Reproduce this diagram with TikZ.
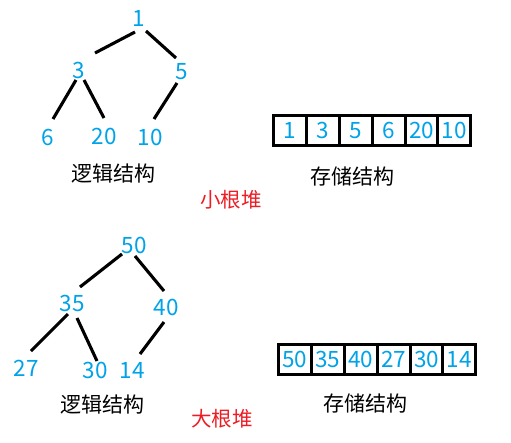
\documentclass[tikz,border=0pt]{standalone}
\usepackage{fontspec}
\setmainfont{Noto Sans CJK SC}
\usetikzlibrary{calc}
\definecolor{numblue}{RGB}{0,162,232}
\definecolor{heapred}{RGB}{237,28,36}
\tikzset{
  numtext/.style={text=numblue,font=\fontsize{22.5}{22.5}\selectfont,inner sep=0pt},
  lbltext/.style={text=black,font=\fontsize{21}{21}\selectfont,inner sep=0pt},
  heaptitle/.style={text=heapred,font=\fontsize{20.5}{20.5}\selectfont,inner sep=0pt},
  link/.style={line width=3.1pt},
  cellbox/.style={draw,line width=3pt,minimum width=32.9pt,minimum height=30pt,inner sep=0pt,text=numblue,font=\fontsize{22.5}{22.5}\selectfont},
}
\begin{document}
\begin{tikzpicture}[x=1pt,y=-1pt]
\useasboundingbox (0,0) rectangle (511,442);
% ---- small-root heap ----
\node[numtext] (t1) at (139,18) {1};
\node[numtext] (t3) at (79,70) {3};
\node[numtext] (t5) at (182,72) {5};
\node[numtext] (t6) at (48,137) {6};
\node[numtext] (t20) at (104,136) {20};
\node[numtext] (t10) at (150,137) {10};
\draw[link] ($(t1)+(-4,14)$) -- ($(t3)+(16,-17)$);
\draw[link] ($(t1)+(7,13)$) -- ($(t5)+(-6,-14)$);
\draw[link] ($(t3)+(-3,10)$) -- ($(t6)+(5,-18)$);
\draw[link] ($(t3)+(5,10)$) -- ($(t20)+(0,-18)$);
\draw[link] ($(t5)+(-5,11)$) -- ($(t10)+(4,-18)$);
\node[lbltext] (tl) at (113,174) {逻辑结构};
\node[heaptitle] (th) at (231,199.5) {小根堆};
\foreach \v [count=\i from 0] in {1,3,5,6,20,10}{
  \node[cellbox] (ta\i) at ({289.9+32.9*\i},130.5) {\v};
}
\node[lbltext] (ts) at (352,177) {存储结构};
% ---- large-root heap ----
\node[numtext] (b50) at (134,245) {50};
\node[numtext] (b35) at (72,303) {35};
\node[numtext] (b40) at (166,307) {40};
\node[numtext] (b27) at (26,368) {27};
\node[numtext] (b30) at (95,370) {30};
\node[numtext] (b14) at (132,370) {14};
\draw[link] ($(b50)+(-12,9)$) -- ($(b35)+(8,-16)$);
\draw[link] ($(b50)+(1,11)$) -- ($(b40)+(-2,-16)$);
\draw[link] ($(b35)+(-4,11)$) -- ($(b27)+(5,-17)$);
\draw[link] ($(b35)+(5,15)$) -- ($(b30)+(2,-9)$);
\draw[link] ($(b40)+(-2,15)$) -- ($(b14)+(8,-16)$);
\node[lbltext] (bl) at (102,405) {逻辑结构};
\node[heaptitle] (bh) at (222,419) {大根堆};
\foreach \v [count=\i from 0] in {50,35,40,27,30,14}{
  \node[cellbox] (ba\i) at ({294.9+32.9*\i},359.5) {\v};
}
\node[lbltext] (bs) at (365,404) {存储结构};
\end{tikzpicture}
\end{document}
